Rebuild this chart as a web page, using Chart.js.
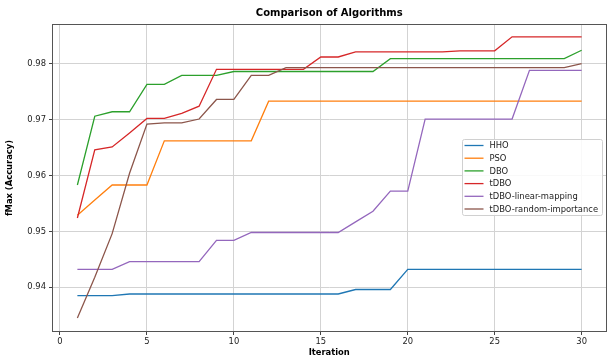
<!DOCTYPE html>
<html>
<head>
<meta charset="utf-8">
<script src="https://cdn.jsdelivr.net/npm/chart.js@4.4.1/dist/chart.umd.min.js"></script>
<style>
  html, body { margin: 0; padding: 0; background: #fff; }
  #wrap { width: 610px; height: 358px; }
</style>
</head>
<body>
<div id="wrap"><canvas id="myChart" width="610" height="358"></canvas></div>
<script>
var iterations = [];
for (var i = 1; i <= 30; i++) iterations.push(i);

var seriesNames = ["HHO", "PSO", "DBO", "tDBO", "tDBO-linear-mapping", "tDBO-random-importance"];
var seriesColors = ["#1f77b4", "#ff7f0e", "#2ca02c", "#d62728", "#9467bd", "#8c564b"];

var hho = [0.9385, 0.9385, 0.9385, 0.9388, 0.9388, 0.9388, 0.9388, 0.9388, 0.9388, 0.9388,
           0.9388, 0.9388, 0.9388, 0.9388, 0.9388, 0.9388, 0.9396, 0.9396, 0.9396, 0.9432,
           0.9432, 0.9432, 0.9432, 0.9432, 0.9432, 0.9432, 0.9432, 0.9432, 0.9432, 0.9432];
var pso = [0.9529, 0.9556, 0.9583, 0.9583, 0.9583, 0.9662, 0.9662, 0.9662, 0.9662, 0.9662,
           0.9662, 0.9733, 0.9733, 0.9733, 0.9733, 0.9733, 0.9733, 0.9733, 0.9733, 0.9733,
           0.9733, 0.9733, 0.9733, 0.9733, 0.9733, 0.9733, 0.9733, 0.9733, 0.9733, 0.9733];
var dbo = [0.9583, 0.9706, 0.9714, 0.9714, 0.9763, 0.9763, 0.9779, 0.9779, 0.9779, 0.9786,
           0.9786, 0.9786, 0.9786, 0.9786, 0.9786, 0.9786, 0.9786, 0.9786, 0.9809, 0.9809,
           0.9809, 0.9809, 0.9809, 0.9809, 0.9809, 0.9809, 0.9809, 0.9809, 0.9809, 0.9824];
var tdbo = [0.9524, 0.9646, 0.9651, 0.9676, 0.9702, 0.9702, 0.9711, 0.9724, 0.9790, 0.9790,
            0.9790, 0.9790, 0.9790, 0.9790, 0.9812, 0.9812, 0.9821, 0.9821, 0.9821, 0.9821,
            0.9821, 0.9821, 0.9823, 0.9823, 0.9823, 0.9848, 0.9848, 0.9848, 0.9848, 0.9848];
var tdboLinear = [0.9432, 0.9432, 0.9432, 0.9446, 0.9446, 0.9446, 0.9446, 0.9446, 0.9484, 0.9484,
                  0.9498, 0.9498, 0.9498, 0.9498, 0.9498, 0.9498, 0.9517, 0.9536, 0.9572, 0.9572,
                  0.9701, 0.9701, 0.9701, 0.9701, 0.9701, 0.9701, 0.9788, 0.9788, 0.9788, 0.9788];
var tdboRandom = [0.9345, 0.9418, 0.9496, 0.9604, 0.9692, 0.9694, 0.9694, 0.9701, 0.9736, 0.9736,
                  0.9779, 0.9779, 0.9793, 0.9793, 0.9793, 0.9793, 0.9793, 0.9793, 0.9793, 0.9793,
                  0.9793, 0.9793, 0.9793, 0.9793, 0.9793, 0.9793, 0.9793, 0.9793, 0.9793, 0.9800];

var xTicks = [0, 5, 10, 15, 20, 25, 30];
var yTicks = [0.94, 0.95, 0.96, 0.97, 0.98];

var allSeries = [hho, pso, dbo, tdbo, tdboLinear, tdboRandom];

var datasets = allSeries.map(function (vals, k) {
    return {
        label: seriesNames[k],
        data: vals.map(function (v, j) { return { x: iterations[j], y: v }; }),
        borderColor: seriesColors[k],
        backgroundColor: seriesColors[k],
        borderWidth: 1.3,
        pointRadius: 0,
        tension: 0,
        fill: false,
        order: allSeries.length - k
    };
});

var font = "DejaVu Sans";

// title, frame and in-plot legend like matplotlib
var extras = {
    id: "extras",
    afterDatasetsDraw: function (chart) {
        var ctx = chart.ctx, a = chart.chartArea;
        ctx.save();
        ctx.strokeStyle = "#555";
        ctx.lineWidth = 1;
        ctx.strokeRect(Math.round(a.left) + 0.5, Math.round(a.top) + 0.5,
                       Math.round(a.right - a.left) - 1, Math.round(a.bottom - a.top) - 1);

        ctx.fillStyle = "#000";
        ctx.font = "bold 10px '" + font + "'";
        ctx.textAlign = "center";
        ctx.textBaseline = "middle";
        ctx.fillText("Comparison of Algorithms", (a.left + a.right) / 2, 13);

        // legend box
        var bx = 462.5, by = 139.5, bw = 140, bh = 76;
        ctx.beginPath();
        ctx.roundRect(bx, by, bw, bh, 2);
        ctx.fillStyle = "rgba(255,255,255,0.85)";
        ctx.fill();
        ctx.strokeStyle = "#d0d0d0";
        ctx.stroke();
        ctx.font = "8.4px '" + font + "'";
        ctx.textAlign = "left";
        chart.data.datasets.forEach(function (ds, k) {
            var y = 145.5 + k * 12.7;
            ctx.strokeStyle = ds.borderColor;
            ctx.lineWidth = 1.3;
            ctx.beginPath();
            ctx.moveTo(464.5, y);
            ctx.lineTo(483.5, y);
            ctx.stroke();
            ctx.fillStyle = "#222";
            ctx.fillText(ds.label, 489.5, y + 0.5);
        });
        ctx.restore();
    }
};

new Chart("myChart", {
    type: "line",
    data: { datasets: datasets },
    plugins: [extras],
    options: {
        responsive: false,
        animation: false,
        devicePixelRatio: 1,
        layout: { padding: { top: 24, right: 3.5, left: 0, bottom: 0 } },
        plugins: {
            legend: { display: false },
            title: { display: false },
            tooltip: { enabled: false }
        },
        scales: {
            x: {
                type: "linear",
                min: -0.46,
                max: 31.43,
                afterFit: function (s) { s.height = 26; },
                afterBuildTicks: function (s) { s.ticks = xTicks.map(function (v) { return { value: v }; }); },
                grid: { color: "#d3d3d3", tickColor: "#444", tickLength: 3 },
                border: { display: false },
                ticks: {
                    padding: 2,
                    color: "#222",
                    font: { family: font, size: 8.4 },
                    maxRotation: 0,
                    callback: function (v) { return String(v); }
                },
                title: {
                    display: true,
                    text: "Iteration",
                    color: "#000",
                    font: { family: font, size: 8.4, weight: "bold" },
                    padding: { top: 0, bottom: 0 }
                }
            },
            y: {
                type: "linear",
                min: 0.9320,
                max: 0.9871,
                afterFit: function (s) { s.width = 52; },
                afterBuildTicks: function (s) { s.ticks = yTicks.map(function (v) { return { value: v }; }); },
                grid: { color: "#d3d3d3", tickColor: "#444", tickLength: 3 },
                border: { display: false },
                ticks: {
                    padding: 3,
                    color: "#222",
                    font: { family: font, size: 8.4 },
                    callback: function (v) { return v.toFixed(2); }
                },
                title: {
                    display: true,
                    text: "fMax (Accuracy)",
                    color: "#000",
                    font: { family: font, size: 8.4, weight: "bold" },
                    padding: { top: 5, bottom: 0 }
                }
            }
        }
    }
});
</script>
</body>
</html>
